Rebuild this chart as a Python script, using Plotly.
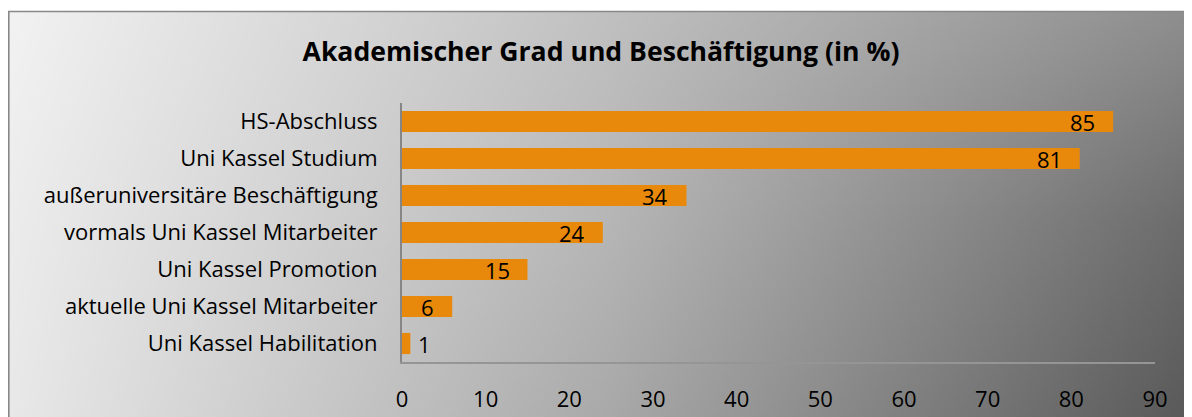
import numpy as np
import zlib, struct, base64
import plotly.graph_objects as go

# ---- data ----
categories = [
    "HS-Abschluss",
    "Uni Kassel Studium",
    "außeruniversitäre Beschäftigung",
    "vormals Uni Kassel Mitarbeiter",
    "Uni Kassel Promotion",
    "aktuelle Uni Kassel Mitarbeiter",
    "Uni Kassel Habilitation",
]
values = [85, 81, 34, 24, 15, 6, 1]
x_ticks = [0, 10, 20, 30, 40, 50, 60, 70, 80, 90]
title_text = "Akademischer Grad und Beschäftigung (in %)"

# ---- gradient background image ----
def make_png_uri(arr):
    h, w, _ = arr.shape
    raw = b"".join(b"\x00" + arr[i].tobytes() for i in range(h))
    def chunk(tag, data):
        return (struct.pack(">I", len(data)) + tag + data
                + struct.pack(">I", zlib.crc32(tag + data) & 0xffffffff))
    png = (b"\x89PNG\r\n\x1a\n"
           + chunk(b"IHDR", struct.pack(">IIBBBBB", w, h, 8, 2, 0, 0, 0))
           + chunk(b"IDAT", zlib.compress(raw, 9))
           + chunk(b"IEND", b""))
    return "data:image/png;base64," + base64.b64encode(png).decode()

grid = np.array([[242, 192, 140],
                 [236, 182, 105],
                 [232, 168, 85]], dtype=float)
W, H = 400, 140
u = np.linspace(0, 1, W)
v = np.linspace(0, 1, H)
rows = np.array([np.interp(u, [0, 0.5, 1], grid[r]) for r in range(3)])
img = np.empty((H, W))
for j in range(W):
    img[:, j] = np.interp(v, [0, 0.5, 1], rows[:, j])
arr = np.clip(np.round(img), 0, 255).astype(np.uint8)
arr = np.stack([arr, arr, arr], axis=2)
bg_uri = make_png_uri(arr)

# ---- geometry (page pixels; the page body adds an 8px offset) ----
OFF = 8
FW, FH = 1192 - OFF, 417 - OFF
def fx(X):
    return X - OFF
L = fx(402)
R = FW - fx(1155)
T = fx(103)
B = FH - fx(362)
pw, ph = FW - L - R, FH - T - B
def px(X):
    return (fx(X) - L) / pw
def py(Y):
    return (FH - B - fx(Y)) / ph

FONT = "Open Sans"

fig = go.Figure()
fig.add_trace(go.Bar(
    x=values, y=categories, orientation="h",
    marker=dict(color="#E8890B", line=dict(width=0)),
    hoverinfo="skip",
))

annotations = []
for c, v_ in zip(categories, values):
    inside = v_ >= 3
    annotations.append(dict(x=v_, y=c, xref="x", yref="y", text=str(v_),
                            showarrow=False,
                            xanchor="right" if inside else "left",
                            xshift=-16 if inside else 6,
                            font=dict(family=FONT, size=22, color="#000000")))

fig.update_layout(
    width=FW, height=FH,
    margin=dict(l=L, r=R, t=T, b=B, pad=0, autoexpand=False),
    paper_bgcolor="white",
    plot_bgcolor="rgba(0,0,0,0)",
    bargap=0.43,
    showlegend=False,
    font=dict(family=FONT, size=22, color="#000000"),
    title=dict(text="<b>" + title_text + "</b>", x=fx(601) / FW, xanchor="center",
               y=1 - fx(52) / FH, yanchor="middle", yref="container",
               font=dict(family=FONT, size=26.6, color="#000000")),
    images=[dict(source=bg_uri, xref="paper", yref="paper",
                 x=px(7), y=py(11), sizex=(1210 - 7) / pw, sizey=(430 - 11) / ph,
                 xanchor="left", yanchor="top", sizing="stretch", layer="below")],
    shapes=[dict(type="rect", xref="paper", yref="paper",
                 x0=(0.8 - L) / pw, x1=px(1250), y0=py(11.5), y1=py(460),
                 line=dict(color="#888888", width=1.6), layer="above")],
    annotations=annotations,
    xaxis=dict(range=[0, 90], tickvals=x_ticks, ticktext=[str(t) for t in x_ticks],
               showgrid=False, zeroline=False, showline=True, automargin=False,
               linecolor="#959595", linewidth=2, ticks="",
               ticklabelstandoff=17,
               tickfont=dict(family=FONT, size=22, color="#000000")),
    yaxis=dict(autorange="reversed", showgrid=False, zeroline=False,
               showline=True, automargin=False, linecolor="#868686", linewidth=2,
               ticks="", ticklabelstandoff=18,
               tickfont=dict(family=FONT, size=22, color="#000000")),
)

fig.write_html("out.html")
